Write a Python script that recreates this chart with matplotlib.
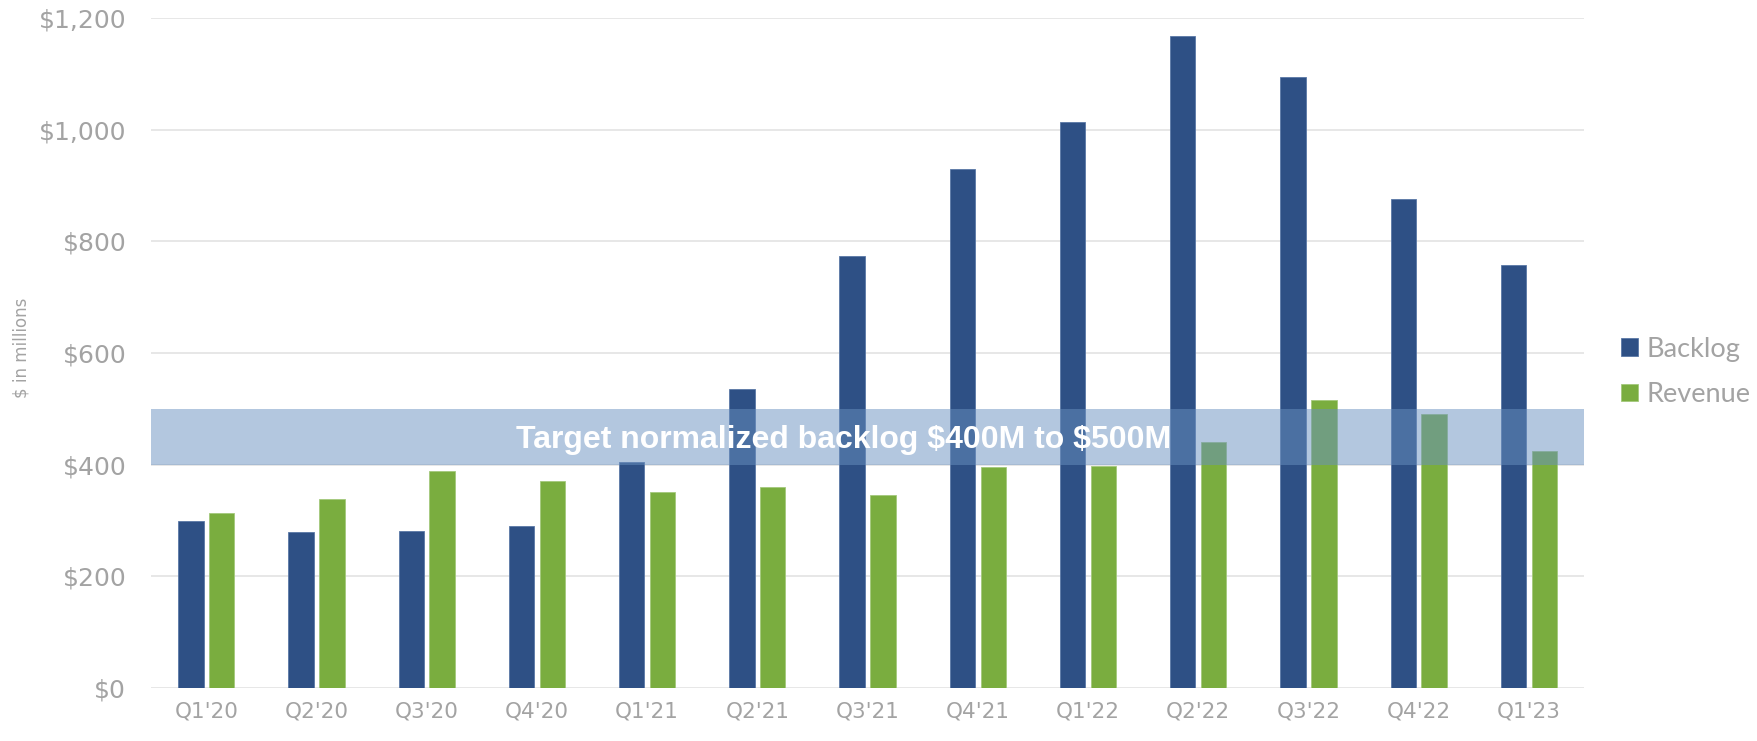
import matplotlib.pyplot as plt
import numpy as np

# -----------------------------
# DATA ($ in millions)
# -----------------------------
quarters = ["Q1'20", "Q2'20", "Q3'20", "Q4'20", "Q1'21", "Q2'21", "Q3'21",
            "Q4'21", "Q1'22", "Q2'22", "Q3'22", "Q4'22", "Q1'23"]
backlog = [299, 280, 281, 290, 405, 535, 773, 930, 1014, 1168, 1094, 876, 757]
revenue = [314, 339, 389, 371, 351, 360, 346, 396, 397, 441, 515, 491, 424]
target_low, target_high = 400, 500
yticks = [0, 200, 400, 600, 800, 1000, 1200]

BLUE = "#2e5085"
GREEN = "#7aad3f"
GRAY = "#a3a3a3"

# -----------------------------
# PLOT
# -----------------------------
fig = plt.figure(figsize=(17.58, 7.41), dpi=100)
ax = fig.add_axes([0.086, 0.0715, 0.815, 0.9042])

x = np.arange(len(quarters))
w = 0.23
ax.bar(x - 0.14, backlog, w, color=BLUE, edgecolor="#5a78a6", linewidth=0.6,
       label="Backlog", zorder=2)
ax.bar(x + 0.14, revenue, w, color=GREEN, edgecolor="#a4c97c", linewidth=0.6,
       label="Revenue", zorder=2)

# target band sits over the bars
ax.axhspan(target_low, target_high, color="#6990c0", alpha=0.5, lw=0, zorder=3)
ax.text(5.78, (target_low + target_high) / 2 - 5,
        r"Target normalized backlog \$400M to \$500M",
        color="white", fontweight="bold", fontsize=23,
        family=["Liberation Sans Narrow", "Liberation Sans"],
        ha="center", va="center", zorder=4)

ax.set_xlim(-0.5, len(quarters) - 0.5)
ax.set_ylim(0, 1200)
ax.set_yticks(yticks)
ax.set_yticklabels([f"${v:,}" for v in yticks])
ax.set_xticks(x)
ax.set_xticklabels(quarters)

ax.tick_params(axis="y", length=0, pad=18, labelsize=18, labelcolor=GRAY)
ax.tick_params(axis="x", length=0, pad=10, labelsize=15.5, labelcolor=GRAY)
for s in ax.spines.values():
    s.set_visible(False)
ax.grid(axis="y", color="#e3e3e3", linewidth=1.2, zorder=0)
ax.set_axisbelow(True)

fig.text(0.012, 0.53, "$ in millions", rotation=90, color=GRAY,
         fontsize=12, family=["Liberation Sans Narrow", "DejaVu Sans"],
         ha="center", va="center")

leg = ax.legend(loc="center left", bbox_to_anchor=(0.922, 0.498),
                bbox_transform=fig.transFigure, frameon=False,
                borderpad=0, borderaxespad=0,
                handlelength=0.63, handleheight=0.63, handletextpad=0.33,
                labelspacing=0.75, prop={"family": "Lato", "size": 19.5})
for t in leg.get_texts():
    t.set_color(GRAY)

plt.savefig("out.png", dpi=100)
